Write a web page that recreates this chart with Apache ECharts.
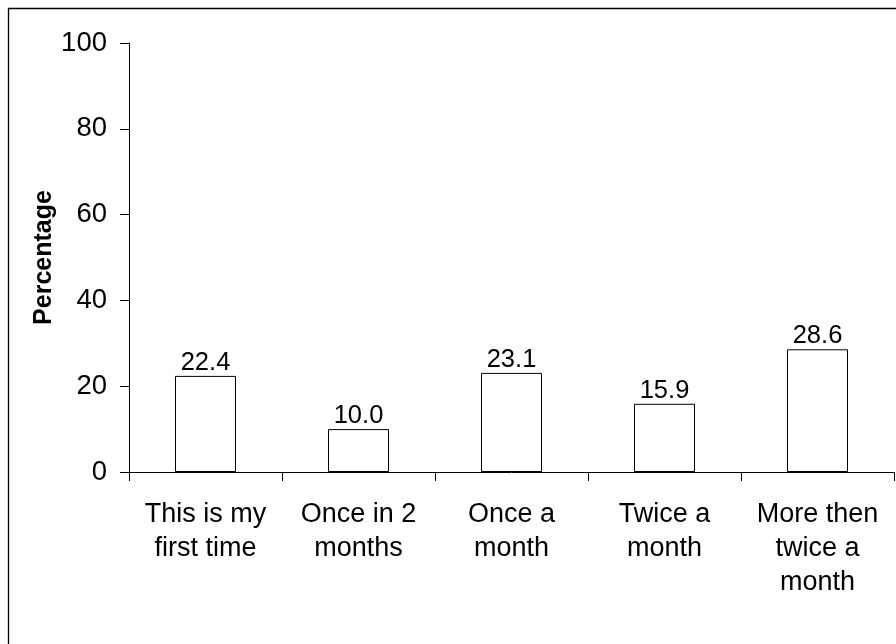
<!DOCTYPE html>
<html>
<head>
<meta charset="utf-8">
<script src="https://cdn.jsdelivr.net/npm/echarts@6/dist/echarts.min.js"></script>
<style>
html,body{margin:0;padding:0;background:#fff;}
#chart{width:896px;height:644px;}
</style>
</head>
<body>
<div id="chart"></div>
<script>
const categories = ["This is my\nfirst time", "Once in 2\nmonths", "Once a\nmonth", "Twice a\nmonth", "More then\ntwice a\nmonth"];
const percentages = [22.4, 10.0, 23.1, 15.9, 28.6];
const yMin = 0, yMax = 100, yInterval = 20;
const yAxisTitle = "Percentage";

const FONT = "'Liberation Sans', Arial, sans-serif";
const chart = echarts.init(document.getElementById('chart'), null, {renderer: 'canvas'});
chart.setOption({
  backgroundColor: '#fff',
  animation: false,
  graphic: [{
    type: 'rect',
    shape: {x: 8.5, y: 8.5, width: 1000, height: 1000},
    style: {fill: 'none', stroke: '#000', lineWidth: 1.3},
    silent: true
  }],
  grid: {left: 129, right: 2, top: 43, bottom: 172, containLabel: false},
  xAxis: {
    type: 'category',
    data: categories,
    boundaryGap: true,
    axisLine: {lineStyle: {color: '#000', width: 1}},
    axisTick: {show: true, length: 9, alignWithLabel: false, lineStyle: {color: '#000'}},
    axisLabel: {color: '#000', fontFamily: FONT, fontSize: 27, lineHeight: 34, margin: 26, interval: 0},
    splitLine: {show: false}
  },
  yAxis: {
    type: 'value',
    min: yMin, max: yMax, interval: yInterval,
    name: yAxisTitle,
    nameLocation: 'middle',
    nameRotate: 90,
    nameGap: 72,
    nameMoveOverlap: false,
    nameTextStyle: {color: '#000', fontFamily: FONT, fontSize: 25, fontWeight: 'bold'},
    axisLine: {show: true, lineStyle: {color: '#000', width: 1}},
    axisTick: {show: true, length: 9, lineStyle: {color: '#000'}},
    axisLabel: {color: '#000', fontFamily: FONT, fontSize: 27.5, margin: 22},
    splitLine: {show: false}
  },
  series: [{
    type: 'bar',
    data: percentages,
    barWidth: 61,
    itemStyle: {color: '#fff', borderColor: '#000', borderWidth: 1},
    label: {
      show: true, position: 'top', distance: 0,
      color: '#000', fontFamily: FONT, fontSize: 25.5,
      formatter: p => p.value.toFixed(1)
    }
  }]
});
</script>
</body>
</html>
